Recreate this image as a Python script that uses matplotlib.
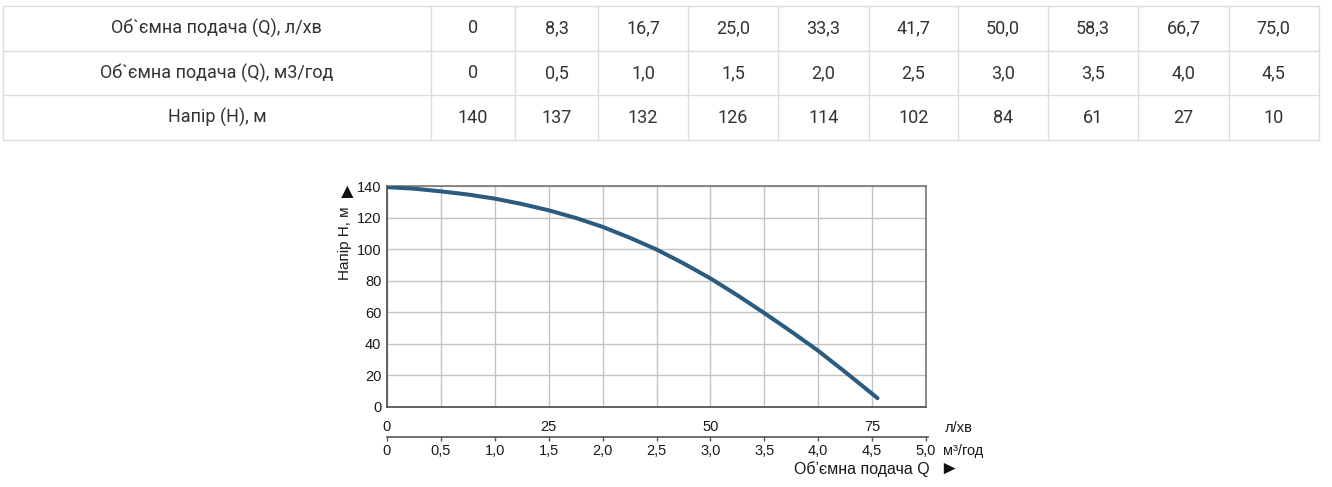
import matplotlib
matplotlib.use("Agg")
import matplotlib.pyplot as plt
from matplotlib.lines import Line2D

# ---------------- data ----------------
row_labels = ["Об`ємна подача (Q), л/хв", "Об`ємна подача (Q), м3/год", "Напір (H), м"]
flow_lpm = [0, 8.3, 16.7, 25.0, 33.3, 41.7, 50.0, 58.3, 66.7, 75.0]
flow_m3h = [0, 0.5, 1.0, 1.5, 2.0, 2.5, 3.0, 3.5, 4.0, 4.5]
head_m = [140, 137, 132, 126, 114, 102, 84, 61, 27, 10]

# curve as drawn in the chart
curve_q = [0, 0.25, 0.5, 0.75, 1.0, 1.25, 1.5, 1.75, 2.0, 2.25, 2.5, 2.75,
           3.0, 3.25, 3.5, 3.75, 4.0, 4.25, 4.5, 4.55]
curve_h = [139.3, 138.3, 136.6, 134.6, 132.0, 128.6, 124.6, 119.8, 114.1, 107.3,
           99.8, 91.0, 81.5, 70.8, 59.5, 47.8, 35.6, 22.2, 8.4, 5.6]

x_ticks_m3h = [0, 0.5, 1.0, 1.5, 2.0, 2.5, 3.0, 3.5, 4.0, 4.5, 5.0]
x_ticks_lpm = [0, 25, 50, 75]
y_ticks = [0, 20, 40, 60, 80, 100, 120, 140]

# ---------------- layout ----------------
W, H = 1332, 487
fig = plt.figure(figsize=(W / 100, H / 100), dpi=100)
fig.patch.set_facecolor("white")


def fx(x):
    return x / W


def fy(y):
    return 1 - y / H


def fmt(v):
    if v == 0:
        return "0"
    return f"{v:.1f}".replace(".", ",")


# ---------------- table ----------------
tbl_color = "#dcdcdc"
row_y = [6, 50.5, 95.5, 140]
col_x = [3, 430.7, 515, 598, 688, 778, 869, 958, 1048, 1138, 1229, 1318.5]
for y in row_y:
    fig.add_artist(Line2D([fx(col_x[0]), fx(col_x[-1])], [fy(y), fy(y)],
                          color=tbl_color, lw=1.0, transform=fig.transFigure))
for x in col_x:
    fig.add_artist(Line2D([fx(x), fx(x)], [fy(row_y[0]), fy(row_y[-1])],
                          color=tbl_color, lw=1.0, transform=fig.transFigure))

rows = [[fmt(v) for v in flow_lpm], [fmt(v) for v in flow_m3h], [str(v) for v in head_m]]
tfont = dict(family="Roboto", size=13, color="#333333", va="center", ha="center")
for r in range(3):
    yc = (row_y[r] + row_y[r + 1]) / 2
    fig.text(fx((col_x[0] + col_x[1]) / 2), fy(yc), row_labels[r], **tfont)
    for c in range(10):
        xc = (col_x[c + 1] + col_x[c + 2]) / 2
        fig.text(fx(xc), fy(yc), rows[r][c], **tfont)

# ---------------- chart ----------------
cfont = "Liberation Sans"
txt_col = "#1a1a1a"
tick_fs = 10.5
px0, px1, py0, py1 = 387, 926, 186, 407
ax = fig.add_axes([fx(px0), fy(py1), (px1 - px0) / W, (py1 - py0) / H])
ax.set_xlim(0, 5)
ax.set_ylim(0, 140)
ax.set_xticks(x_ticks_m3h)
ax.set_yticks(y_ticks)
ax.set_xticklabels([])
ax.set_yticklabels([str(v) for v in y_ticks], family=cfont, fontsize=tick_fs, color=txt_col)
ax.tick_params(axis="both", length=0, pad=4)
ax.grid(True, color="#c2c2c2", lw=1.0)
ax.set_axisbelow(True)
for s in ["left", "bottom"]:
    ax.spines[s].set_color("#555555")
    ax.spines[s].set_linewidth(1.3)
for s in ["top", "right"]:
    ax.spines[s].set_color("#777777")
    ax.spines[s].set_linewidth(1.2)

ax.plot(curve_q, curve_h, color="#2b5b7e", lw=2.9, solid_capstyle="round", zorder=3)

# y label and arrow
fig.text(fx(345), fy(243.5), "Напір Н, м", rotation=90, family=cfont, fontsize=11,
         color=txt_col, ha="center", va="center")
fig.text(fx(347), fy(192.5), "▲", family=[cfont, "DejaVu Sans"], fontsize=15,
         color="#111111", ha="center", va="center")

# lower scale axes (m3/h with secondary l/min)
line_y = 437
ax2 = fig.add_axes([fx(px0), fy(line_y), (px1 - px0) / W + 2 / W, 1e-6])
ax2.set_xlim(0, 5 * (px1 - px0 + 2) / (px1 - px0))
ax2.patch.set_visible(False)
for s in ["top", "left", "right"]:
    ax2.spines[s].set_visible(False)
ax2.spines["bottom"].set_color("#555555")
ax2.spines["bottom"].set_linewidth(1.2)
ax2.set_yticks([])
ax2.set_xticks(x_ticks_m3h)
ax2.set_xticklabels([fmt(v) for v in x_ticks_m3h], family=cfont, fontsize=tick_fs, color=txt_col)
ax2.tick_params(axis="x", direction="out", length=3, width=1, color="#555555", pad=2)

sec = ax2.secondary_xaxis("top", functions=(lambda q: q * 1000 / 60, lambda l: l * 60 / 1000))
sec.set_xticks(x_ticks_lpm)
sec.set_xticklabels([str(v) for v in x_ticks_lpm], family=cfont, fontsize=tick_fs, color=txt_col)
sec.tick_params(axis="x", length=0, pad=2.5)
sec.spines["top"].set_visible(False)

fig.text(fx(945), fy(428.5), "л/хв", family=cfont, fontsize=10.5, color=txt_col,
         ha="left", va="center")
fig.text(fx(942.5), fy(451), "м³/год", family=cfont, fontsize=10.5, color=txt_col,
         ha="left", va="center")
fig.text(fx(930), fy(469.5), "Об’ємна подача Q", family=cfont, fontsize=11.5, color=txt_col,
         ha="right", va="center")
fig.text(fx(949), fy(469.5), "►", family=[cfont, "DejaVu Sans"], fontsize=14,
         color="#111111", ha="center", va="center")

fig.savefig("out.png", dpi=100, facecolor="white")
